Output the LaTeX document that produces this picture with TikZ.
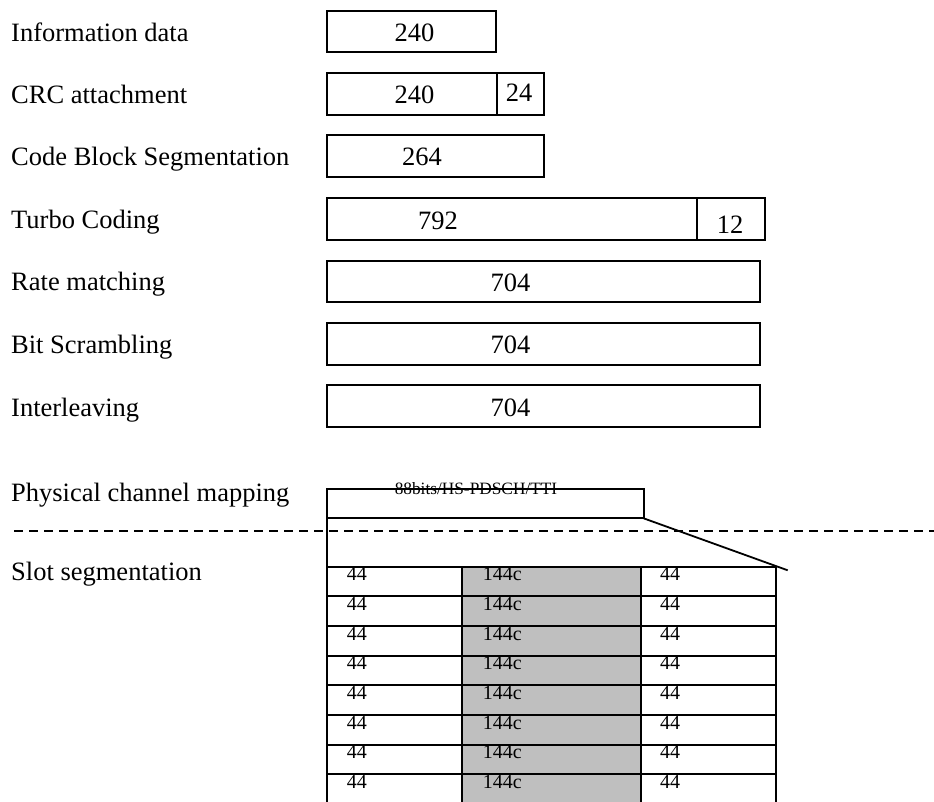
\documentclass[tikz,border=0pt]{standalone}
\usepackage{fontspec}
\setmainfont{Liberation Serif}
\begin{document}
\begin{tikzpicture}[x=1pt,y=-1pt,
  box/.style={draw=black,line width=1.8pt,rectangle,inner sep=0pt,outer sep=0pt},
  lab/.style={anchor=base west,inner sep=0pt,font=\fontsize{26.5}{30}\selectfont},
  num/.style={anchor=base,inner sep=0pt,font=\fontsize{26.5}{30}\selectfont},
  small/.style={anchor=base,inner sep=0pt,font=\fontsize{17.3}{20}\selectfont},
  cell/.style={anchor=base west,inner sep=0pt,font=\fontsize{20}{22}\selectfont,text=black},
  tline/.style={line width=1.9pt},
]
\useasboundingbox (0,0) rectangle (934,802);

% left labels
\node[lab] (l1) at (11,41.7) {Information data};
\node[lab] (l2) at (11,103.5) {CRC attachment};
\node[lab] (l3) at (11,165.7) {Code Block Segmentation};
\node[lab] (l4) at (11,228.5) {Turbo Coding};
\node[lab] (l5) at (11,290.7) {Rate matching};
\node[lab] (l6) at (11,353.5) {Bit Scrambling};
\node[lab] (l7) at (11,416) {Interleaving};
\node[lab] (l8) at (11,501) {Physical channel mapping};
\node[lab] (l9) at (11,580) {Slot segmentation};

% boxes
\node[box,minimum width=168.7pt,minimum height=41.3pt] (b1) at (411.7,31.7) {};
\node[box,minimum width=169.7pt,minimum height=42.3pt] (b2a) at (412.2,94.2) {};
\node[box,minimum width=47.3pt,minimum height=42.3pt] (b2b) at (520.7,94.2) {};
\node[box,minimum width=217pt,minimum height=42pt] (b3) at (435.8,156.3) {};
\node[box,minimum width=370pt,minimum height=42pt] (b4a) at (512.3,219) {};
\node[box,minimum width=67.7pt,minimum height=42pt] (b4b) at (731.2,219) {};
\node[box,minimum width=433pt,minimum height=41.6pt] (b5) at (543.8,281.5) {};
\node[box,minimum width=433pt,minimum height=42.3pt] (b6) at (543.8,343.8) {};
\node[box,minimum width=433pt,minimum height=42.3pt] (b7) at (543.8,406.2) {};

% numbers
\node[num] (n1) at (414.5,41.7) {240};
\node[num] (n2) at (414.5,103.3) {240};
\node[num] (n3) at (519,101.7) {24};
\node[num] (n4) at (422,165.7) {264};
\node[num] (n5) at (438,230) {792};
\node[num] (n6) at (730,233.3) {12};
\node[num] (n7) at (510.5,291) {704};
\node[num] (n8) at (510.5,353.5) {704};
\node[num] (n9) at (510.5,416) {704};

% slot table: gray column
\fill[black!25] (462.3,566.7) rectangle (641,802);

% physical channel mapping box
\node[box,minimum width=316.4pt,minimum height=29.3pt] (pcm) at (485.5,503.7) {};
\node[small] (pcmt) at (476,494) {88bits/HS-PDSCH/TTI};

% dashed separator
\coordinate (dl) at (14,530.7);
\coordinate (dr) at (934,530.7);
\draw[line width=1.6pt,dash pattern=on 9pt off 6pt] (dl) -- (dr);

% slanted line
\coordinate (sl) at (787.7,570.3);
\draw[line width=1.8pt] (pcm.south east) -- (sl);

% table lines
\draw[line width=1.8pt] (pcm.north west) -- (327.3,802);
\foreach \x in {462.3,641,775.7}
  \draw[line width=1.8pt] (\x,566.7) -- (\x,802);
\foreach \i in {0,...,7}{
  \pgfmathsetmacro{\yy}{566.7+29.66*\i}
  \draw[tline] (327.3,\yy) -- (775.7,\yy);
  \pgfmathsetmacro{\yb}{580.7+29.66*\i}
  \node[cell] (c\i a) at (346.7,\yb) {44};
  \node[cell] (c\i b) at (482.7,\yb) {144c};
  \node[cell] (c\i c) at (660,\yb) {44};
}
\end{tikzpicture}
\end{document}
